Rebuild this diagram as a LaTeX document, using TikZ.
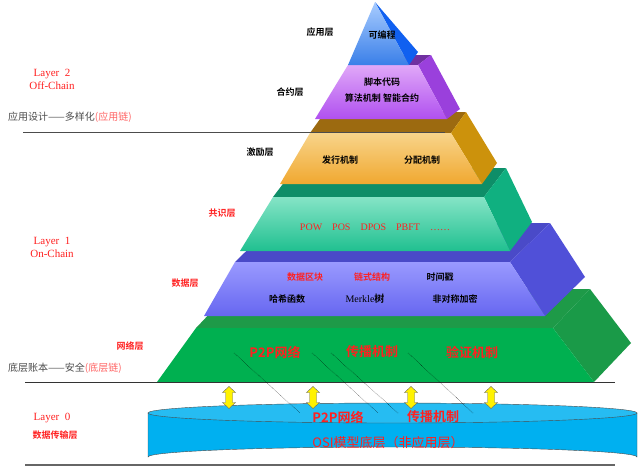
\documentclass[tikz,border=0pt]{standalone}
\usepackage{fontspec}
\setmainfont{Liberation Serif}
\newfontfamily\cjk{Noto Sans CJK SC}
\newfontfamily\cjkb{Noto Sans CJK SC Bold}
\usetikzlibrary{arrows.meta}
\definecolor{gnf}{HTML}{00B050}\definecolor{gna}{HTML}{00B050}\definecolor{gnt}{HTML}{1E9A48}\definecolor{gns}{HTML}{1A9A48}
\definecolor{dtf}{HTML}{6666F0}\definecolor{dta}{HTML}{9A9AFF}\definecolor{dtt}{HTML}{4A4AC8}\definecolor{dts}{HTML}{5050D8}
\definecolor{tlf}{HTML}{20C090}\definecolor{tla}{HTML}{85E4C6}\definecolor{tlt}{HTML}{0E8E68}\definecolor{tls}{HTML}{10B080}
\definecolor{orf}{HTML}{F0A830}\definecolor{ora}{HTML}{F8D48A}\definecolor{ort}{HTML}{9C6A10}\definecolor{ors}{HTML}{CC920C}
\definecolor{puf}{HTML}{B050F0}\definecolor{pua}{HTML}{E0A8F8}\definecolor{put}{HTML}{7030A0}\definecolor{pus}{HTML}{9A40DC}
\definecolor{blf}{HTML}{3A7FE8}\definecolor{bla}{HTML}{A8CCFF}\definecolor{bls}{HTML}{1060F0}
\definecolor{cyl}{HTML}{00B0F0}\definecolor{txr}{HTML}{FF2020}
\newcommand\lay[9]{%
 \fill[#9t] (#3,#5) -- (#4,#5) -- (#4+#7,#5+#8) -- (#3+#7,#5+#8) -- cycle;
 \fill[#9s] (#4,#5) -- (#4+#7,#5+#8) -- (#2+#7,#6+#8) -- (#2,#6) -- cycle;
 \shade[top color=#9a, bottom color=#9f] (#1,#6) -- (#2,#6) -- (#4,#5) -- (#3,#5) -- cycle;}
\tikzset{lbl/.style={font=\cjkb\fontsize{9}{10}\selectfont,inner sep=0pt},
 red/.style={text=txr},
 big/.style={font=\cjkb\fontsize{13}{14}\selectfont,inner sep=0pt,text=txr},
 lay/.style={font=\fontsize{11}{13}\selectfont,text=txr,align=center,inner sep=0pt},
 side/.style={font=\cjk\fontsize{10}{12}\selectfont,text=black!70,inner sep=0pt},
 dl/.style={densely dotted,black,thin},
 yarr/.style={fill=yellow,draw=black!60,line width=0.4pt}}
\begin{document}
\begin{tikzpicture}[x=1pt,y=-1pt]
\useasboundingbox (0,0) rectangle (640,466);
% cylinder
\fill[cyl,draw=black!70] (148,413) -- (148,457) arc[x radius=244.5,y radius=10,start angle=180,end angle=360] -- (637,413) -- cycle;
\filldraw[fill=cyl!85!white,draw=black!70] (392.5,413) ellipse[x radius=244.5,y radius=10];
\draw[black!60,line width=1.5pt] (25,465) -- (615,465);
% layers bottom to top
\lay{157}{594}{196}{553}{328}{382}{37}{-39}{gn}
\lay{204}{545}{235}{510}{262}{316}{40}{-39}{dt}
\lay{240}{510}{273}{484}{197}{251}{22}{-29}{tl}
\lay{280}{482}{310}{451}{133}{184}{15}{-21}{or}
\lay{315}{447}{348}{418}{65}{119}{13}{-10}{pu}
\fill[bls] (375,2) -- (418,52) -- (409,65) -- cycle;
\shade[top color=bla,bottom color=blf] (375,2) -- (409,65) -- (348,65) -- cycle;
\draw[black!70] (23,132) -- (445,132);
\draw[black!80] (25,382) -- (615,382);
% arrows
\foreach \x/\n in {229/a1,313/a2,411/a3,491/a4}{
 \coordinate (\n) at (\x,397.5);
 \draw[yarr] (\n) ++(0,-11) -- ++(6.5,6) -- ++(-3,0) -- ++(0,10) -- ++(3,0) -- ++(-6.5,6) -- ++(-6.5,-6) -- ++(3,0) -- ++(0,-10) -- ++(-3,0) -- cycle;}
% texts in layers
\node[lbl] (kbc) at (382,35) {可编程};
\node[lbl] (jb) at (382,82) {脚本代码};
\node[lbl] (sf) at (382,98) {算法机制 智能合约};
\node[lbl] (fx) at (340,160) {发行机制};
\node[lbl] (fp) at (422,160) {分配机制};
\node[inner sep=0pt,text=txr,font=\fontsize{10}{12}\selectfont] (pow) at (375,227) {POW\quad POS\quad DPOS\quad PBFT\quad ……};
\node[lbl,red] (sjqk) at (305,277) {数据区块};
\node[lbl,red] (lsjg) at (372,277) {链式结构};
\node[lbl] (sjc) at (440,277) {时间戳};
\node[lbl] (hx) at (287,299) {哈希函数};
\node[inner sep=0pt,font=\fontsize{10}{12}\selectfont] (mk) at (365,299) {Merkle\cjkb 树};
\node[lbl] (fdc) at (455,299) {非对称加密};
\node[big] (p2p) at (275,352) {P2P网络};
\node[big] (cb) at (372,352) {传播机制};
\node[big] (yz) at (472,352) {验证机制};
\node[big] (p2p0) at (338,417) {P2P网络};
\node[big] (cb0) at (433,417) {传播机制};
\node[big,font=\cjk\fontsize{13}{14}\selectfont] (osi) at (388,443) {OSI模型底层（非应用层）};
\draw[dl] (234,353) -- (300,413);
\draw[dl] (312,353) -- (378,413);
\draw[dl] (331,353) -- (398,413);
\draw[dl] (408,353) -- (473,413);
% left labels
\node[lbl] (yyc) at (320,32) {应用层};
\node[lbl] (hyc) at (290,92) {合约层};
\node[lbl] (jlc) at (260,152) {激励层};
\node[lbl,red] (gsc) at (222,213) {共识层};
\node[lbl,red] (sjc2) at (185,283) {数据层};
\node[lbl,red] (wlc) at (130,346) {网络层};
\node[lay] (l2) at (52,79) {Layer\ \ 2\\Off-Chain};
\node[lay] (l1) at (52,247) {Layer\ \ 1\\On-Chain};
\node[lay] (l0) at (52,418) {Layer\ \ 0};
\node[lbl,red] (sjcs) at (55,435) {数据传输层};
\node[side,anchor=west] (yysj) at (8,117) {应用设计——多样化\textcolor{txr!70}{(应用链)}};
\node[side,anchor=west] (dczb) at (8,368) {底层账本——安全\textcolor{txr!70}{(底层链)}};
\end{tikzpicture}
\end{document}
